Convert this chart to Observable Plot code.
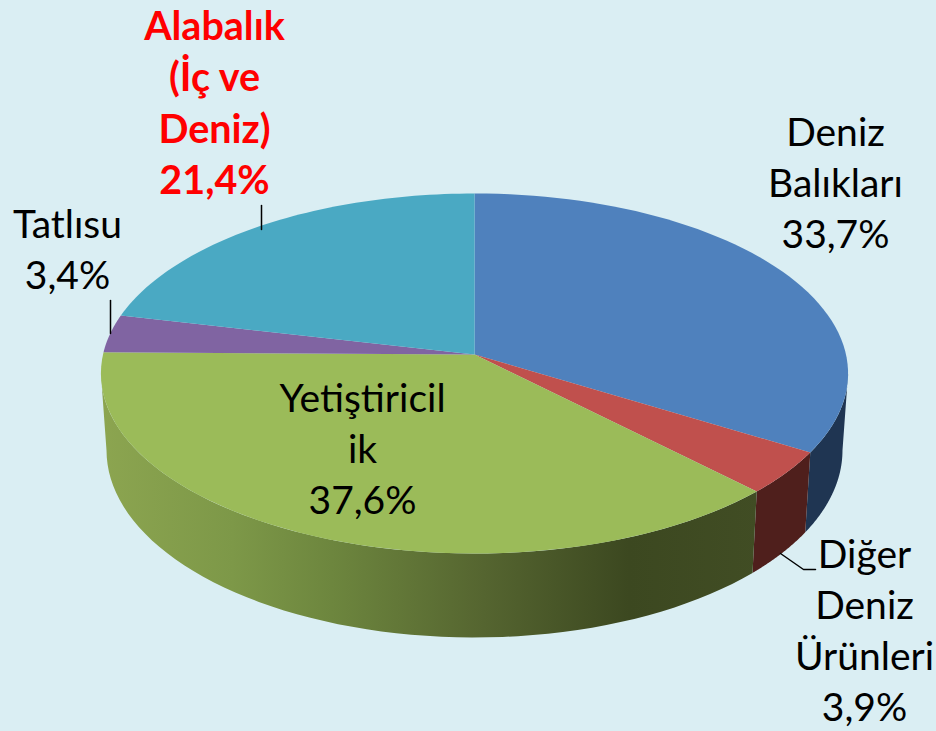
<!DOCTYPE html>
<html lang="tr">
<head>
<meta charset="utf-8">
<script src="https://cdn.jsdelivr.net/npm/d3@7"></script>
<script src="https://cdn.jsdelivr.net/npm/@observablehq/plot@0.6"></script>
<style>html,body{margin:0;padding:0;background:#daeef3;overflow:hidden}svg{display:block}</style>
</head>
<body>
<div id="chart"></div>
<script>
// Data
const categories = ["Deniz Balıkları", "Diğer Deniz Ürünleri", "Yetiştiricilik", "Tatlısu", "Alabalık (İç ve Deniz)"];
const shares = [33.7, 3.9, 37.6, 3.4, 21.4];
const labelTexts = ["Deniz\nBalıkları\n33,7%", "Diğer\nDeniz\nÜrünleri\n3,9%", "Yetiştiricil\nik\n37,6%", "Tatlısu\n3,4%", "Alabalık\n(İç ve\nDeniz)\n21,4%"];

// Styling and layout
const topColors = ["#4f81bd", "#c0504d", "#9bbb59", "#8064a2", "#4aa9c3"];
const wallColors = ["#1f3552", "#4f1f1c", "url(#greenWall)", "none", "none"];
const labelX = [835, 864, 362, 67, 214];
const labelY = [180, 628, 446, 247, 100];
const leaderX = [[261, 261], [110, 110], [780, 803, 815]];
const leaderY = [[205, 229], [300, 333], [553, 569, 569]];

// Perspective projection of the pie's unit disc
const cx = 474, cy = 354, a = 371.5, b = 178, k = 0.1056;
function topPoint([X, Y]) {
  const w = 1 - k * Y;
  return [cx + a * X / w, cy + b * Y / w];
}
function bottomPoint(p) {
  const [x, y] = topPoint(p);
  return [cx + (x - cx) * 0.985, cy + (y - cy) * 1.04 + 76];
}
const turn = v => v / 100 * 2 * Math.PI;
const rim = t => [Math.sin(t), -Math.cos(t)];
const cumul = d3.cumsum(shares);
const arcs = shares.map((v, i) => ({i, t0: turn(cumul[i] - v), t1: turn(cumul[i])}));
const steps = (t0, t1) => d3.range(0, 61).map(j => t0 + (t1 - t0) * j / 60);

const faces = arcs.flatMap(({i, t0, t1}) => [[0, 0], ...steps(t0, t1).map(rim)].map(topPoint)
  .map(([x, y]) => ({x, y, key: "top" + i, color: topColors[i]})));

// Only the front part of the side wall can be seen: it runs between the rim's two widest points
const frontStart = turn(26.7), frontEnd = turn(73.3);
const walls = arcs.flatMap(({i, t0, t1}) => {
  const s = Math.max(t0, frontStart), e = Math.min(t1, frontEnd);
  if (s >= e || wallColors[i] === "none") return [];
  const ts = steps(s, e);
  return [...ts.map(t => topPoint(rim(t))), ...ts.slice().reverse().map(t => bottomPoint(rim(t)))]
    .map(([x, y]) => ({x, y, key: "wall" + i, color: wallColors[i]}));
});

const labels = labelTexts.map((text, i) => ({text, x: labelX[i], y: labelY[i], highlight: i === 4}));
const leaders = leaderX.flatMap((xs, i) => xs.map((x, j) => ({x, y: leaderY[i][j], key: i})));

const gradientDefs = () => {
  const defs = d3.create("svg:defs");
  const g = defs.append("linearGradient").attr("id", "greenWall")
    .attr("gradientUnits", "userSpaceOnUse")
    .attr("x1", 100).attr("x2", 760).attr("y1", 0).attr("y2", 0);
  [[0, "#8ca550"], [0.2, "#7d9848"], [0.35, "#6d863e"], [0.58, "#556530"], [0.8, "#3c4820"], [1, "#414d24"]]
    .forEach(([o, c]) => g.append("stop").attr("offset", o).attr("stop-color", c));
  return defs.node();
};

const textStyle = {
  x: "x", y: "y", text: "text", textAnchor: "middle", lineAnchor: "middle",
  lineHeight: 1.31, fontSize: 39, fontFamily: "Lato, Carlito, sans-serif"
};

const chart = Plot.plot({
  width: 936, height: 731, margin: 0,
  style: {background: "#daeef3"},
  x: {type: "linear", domain: [0, 936], range: [0, 936], axis: null},
  y: {type: "linear", domain: [0, 731], range: [0, 731], axis: null},
  color: {type: "identity"},
  marks: [
    gradientDefs,
    Plot.line(walls, {x: "x", y: "y", z: "key", fill: "color", stroke: "none", curve: "linear"}),
    Plot.line(faces, {x: "x", y: "y", z: "key", fill: "color", stroke: "none", curve: "linear"}),
    Plot.line(leaders, {x: "x", y: "y", z: "key", stroke: "#000", strokeWidth: 1.5, curve: "linear"}),
    Plot.text(labels.filter(d => !d.highlight), {...textStyle, fill: "#000"}),
    Plot.text(labels.filter(d => d.highlight), {...textStyle, fill: "#ff0000", fontWeight: "bold", fontSize: 39.5, lineHeight: 1.3})
  ]
});
document.getElementById("chart").append(chart);
</script>
</body>
</html>
